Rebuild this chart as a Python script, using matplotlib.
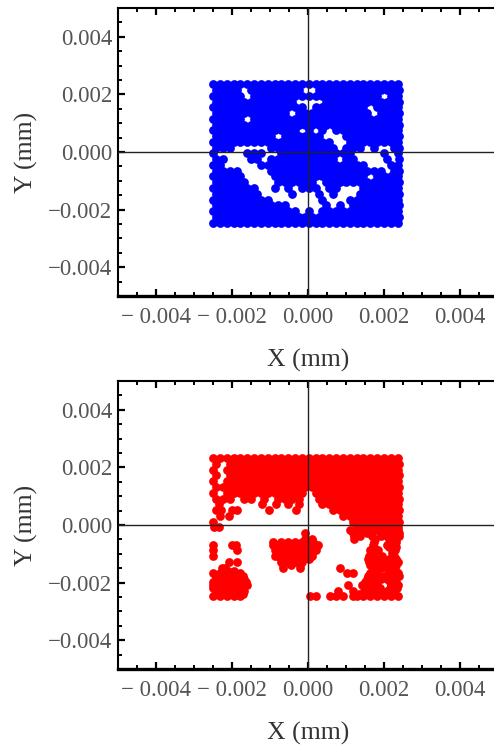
import matplotlib
matplotlib.use("Agg")
import matplotlib.pyplot as plt
from matplotlib.ticker import FixedLocator, MultipleLocator

# point values, x and y in units of 1e-5 mm
blue_y = [235, 215, 195, 175, 155, 135, 115, 95, 75, 55, 35, 15, -5, -25, -45, -65, -85, -105, -125, -145, -165, -185, -205, -225, -245]
blue_x = [
    [-250,-232,-214,-196,-178,-160,-142,-124,-106,-88,-70,-52,-34,-16,2,20,38,56,74,92,110,128,146,164,182,200,218,236],
    [-241,-223,-205,-187,-151,-133,-115,-97,-79,-61,-43,-25,29,47,65,83,101,119,137,155,173,191,209,227,240],
    [-250,-232,-214,-196,-178,-142,-124,-106,-88,-70,-52,-34,-16,2,20,38,56,74,92,110,128,146,164,182,218,236],
    [-241,-223,-205,-187,-169,-151,-133,-115,-97,-79,-61,-43,47,65,83,101,119,137,155,173,191,209,227,240],
    [-250,-232,-214,-196,-178,-160,-142,-124,-106,-88,-70,-52,-34,-16,20,38,56,74,92,110,128,146,182,200,218,236],
    [-241,-223,-205,-187,-169,-151,-133,-115,-97,-79,-61,-25,-7,11,29,47,65,83,101,119,137,155,191,209,227,240],
    [-250,-232,-214,-196,-178,-142,-124,-106,-88,-70,-52,-34,-16,2,20,38,56,74,92,110,128,146,164,182,200,218,236],
    [-241,-223,-205,-187,-169,-151,-133,-115,-97,-79,-61,-43,-25,-7,11,29,47,65,83,101,119,137,155,173,191,209,227,240],
    [-250,-232,-214,-196,-178,-160,-142,-124,-106,-88,-70,-52,-34,2,38,74,92,110,128,146,164,182,200,218,236],
    [-241,-223,-205,-187,-169,-151,-133,-115,-97,-61,-43,-25,-7,11,29,101,119,137,155,173,191,209,227,240],
    [-250,-232,-214,-196,-178,-160,-142,-124,-106,-88,-70,-52,-34,-16,2,20,38,56,110,128,146,164,182,200,218,236],
    [-241,-223,-205,-97,-79,-61,-43,-25,-7,11,29,47,65,101,119,137,173,227,240],
    [-250,-160,-142,-124,-70,-52,-34,-16,2,20,38,56,74,92,110,200,236],
    [-241,-223,-151,-133,-97,-79,-61,-43,-25,-7,11,29,47,65,101,119,209,240],
    [-250,-232,-124,-106,-88,-70,-52,-34,-16,2,20,38,56,74,92,110,128,146,218,236],
    [-241,-223,-205,-187,-97,-79,-61,-43,-25,-7,11,29,47,65,83,101,119,137,155,173,191,227,240],
    [-250,-232,-214,-196,-178,-88,-70,-52,-34,-16,2,20,38,56,74,92,110,128,146,182,200,218,236],
    [-241,-223,-205,-187,-169,-79,-61,-43,-25,-7,11,47,65,83,101,119,137,155,173,191,209,227,240],
    [-250,-232,-214,-196,-178,-160,-142,-88,-52,-16,2,20,56,74,146,164,182,200,218,236],
    [-241,-223,-205,-187,-169,-151,-133,-43,29,65,137,155,173,191,209,227,240],
    [-250,-232,-214,-196,-178,-160,-142,-124,-106,38,110,128,146,164,182,200,218,236],
    [-241,-223,-205,-187,-169,-151,-133,-115,-97,-79,-61,47,83,119,137,155,173,191,209,227,240],
    [-250,-232,-214,-196,-178,-160,-142,-124,-106,-88,-70,-52,-34,2,38,56,74,92,110,128,146,164,182,200,218,236],
    [-241,-223,-205,-187,-169,-151,-133,-115,-97,-79,-61,-43,-25,-7,11,29,47,65,83,101,119,137,155,173,191,209,227,240],
    [-250,-232,-214,-196,-178,-160,-142,-124,-106,-88,-70,-52,-34,-16,2,20,38,56,74,92,110,128,146,164,182,200,218,236],
]

red_y = [232, 212, 192, 172, 152, 132, 112, 92, 72, 52, 32, 12, -8, -28, -48, -68, -88, -108, -128, -148, -168, -188, -208, -228, -248,
         -18, -38, -58, -78, -98, -118, -138, -158, -178, -198, -218, -238]
red_x = [
    [-250,-232,-214,-196,-178,-160,-142,-124,-106,-88,-70,-52,-34,-16,2,20,38,56,74,92,110,128,146,164,182,200,218,236],
    [-241,-205,-187,-169,-151,-133,-115,-97,-79,-61,-43,-25,-7,11,29,47,65,83,101,119,137,155,173,191,209,227,240],
    [-250,-214,-196,-178,-160,-142,-124,-106,-88,-70,-52,-34,-16,2,20,38,56,74,92,110,128,146,164,182,200,218,236],
    [-241,-205,-187,-169,-151,-133,-115,-97,-79,-61,-43,-25,-7,11,29,47,65,83,101,119,137,155,173,191,209,227,240],
    [-250,-214,-196,-178,-160,-142,-124,-106,-88,-70,-52,-34,-16,2,20,38,56,74,92,110,128,146,164,182,200,218,236],
    [-241,-223,-205,-187,-169,-151,-133,-115,-97,-79,-61,-43,-25,-7,11,29,47,65,83,101,119,137,155,173,191,209,227,240],
    [-250,-214,-196,-178,-160,-142,-124,-106,-88,-70,-52,-34,-16,20,38,56,74,92,110,128,146,164,182,200,218,236],
    [-241,-223,-205,-169,-151,-115,-79,-61,-43,-25,29,47,65,83,101,119,137,155,173,191,209,227,240],
    [-235,-122,-84,-52,-25,38,56,74,92,110,128,146,164,182,200,218,236],
    [-241,-230,-201,-188,-102,-32,65,83,101,119,137,155,173,191,209,227,240],
    [-232,-207,92,110,128,146,164,182,200,218,236],
    [-249,119,137,155,173,191,209,227,240],
    [-247,-235,128,146,164,182,200,218,236],
    [-8,119,137,155,191,209,227,240],
    [121,-8,10,176,212,232],
    [-251,-201,-190,-91,-79,-61,-43,-25,-7,11,27,170,209,227],
    [-251,-188,-88,-70,-52,-34,-16,2,20,164,184,229],
    [-251,-87,-79,-61,-43,-25,-7,11,160,173,195,225],
    [-207,-188,-70,-52,-34,-16,160,182,200,218,236],
    [-227,-218,-65,-21,84,170,191,209,227],
    [-250,-232,-214,-196,-178,102,119,164,182,218,236],
    [-241,-223,-205,-187,-169,155,173,191,209,227],
    [-250,-232,-214,-196,-178,-160,106,141,164,182,218,236],
    [-241,-223,-205,-187,-169,80,119,147,173,191,209,227],
    [-250,-232,-214,-196,-178,5,20,58,74,91,119,128,146,164,182,200,218,236],
    # second pass, filling the solid patches
    [110,128,146,164,182,200,218,236],
    [121,137,168,191,209,227,240],
    [-91,-70,-52,-34,-16,-5,14,174,216,232],
    [-82,-70,-52,-34,-16,2,20,174,214,232],
    [-80,-61,-43,-25,-7,11,165,222],
    [-70,-52,-34,-16,2,158,172,190,212,232],
    [-65,-45,-21,163,188,212,232],
    [-225,-210,-195,168,180,212,232],
    [-241,-223,-205,-187,-172,158,176,200,225,240],
    [-250,-232,-214,-196,-178,-162,150,168,215,232],
    [-250,-232,-214,-196,-178,150,165,190,215,235],
    [-241,-223,-205,-187,-172,135,155,173,191,209,227],
]

major_ticks = [-0.004, -0.002, 0.0, 0.002, 0.004]
x_labels = ["\u2212 0.004", "\u2212 0.002", "0.000", "0.002", "0.004"]
y_labels = ["\u22120.004", "\u22120.002", "0.000", "0.002", "0.004"]


def flatten(xrows, ys):
    xs, yy = [], []
    for row, y in zip(xrows, ys):
        for x in row:
            xs.append(x * 1e-5)
            yy.append(y * 1e-5)
    return xs, yy


def panel(ax, xrows, ys, color):
    xs, yy = flatten(xrows, ys)
    ax.plot(xs, yy, "o", color=color, ms=6.3, mew=0, zorder=2)
    ax.axhline(0, color="#222222", lw=1.0, zorder=3)
    ax.axvline(0, color="#222222", lw=1.0, zorder=3)
    ax.set_xlim(-0.005, 0.005)
    ax.set_ylim(-0.005, 0.005)
    ax.xaxis.set_major_locator(FixedLocator(major_ticks))
    ax.yaxis.set_major_locator(FixedLocator(major_ticks))
    ax.xaxis.set_minor_locator(MultipleLocator(0.0005))
    ax.yaxis.set_minor_locator(MultipleLocator(0.0005))
    ax.set_xticklabels(x_labels)
    ax.set_yticklabels(y_labels)
    ax.tick_params(which="major", direction="in", length=5, width=1.6, top=True,
                   labelsize=16.5, labelcolor="#555555", pad=4)
    ax.tick_params(axis="x", which="major", pad=8)
    ax.tick_params(which="minor", direction="in", length=3, width=1.4, top=True)
    ax.spines["bottom"].set_linewidth(2.4)
    ax.spines["left"].set_linewidth(1.5)
    ax.spines["top"].set_linewidth(1.5)
    ax.set_xlabel("X (mm)", fontsize=18.5, color="#333333", labelpad=15)
    ax.set_ylabel("Y (mm)", fontsize=18.5, color="#333333", labelpad=7)


plt.rcParams["font.family"] = ["Liberation Serif", "DejaVu Serif"]
W, H = 494, 746
fig = plt.figure(figsize=(W / 100, H / 100), dpi=100)

# the right edge of both frames runs just past the picture
ax1 = fig.add_axes([118 / W, 1 - 296 / H, 380 / W, 288 / H])
ax2 = fig.add_axes([118 / W, 1 - 669 / H, 380 / W, 288 / H])
panel(ax1, blue_x, blue_y, "#0000ff")
panel(ax2, red_x, red_y, "#ff0000")

fig.savefig("out.png", dpi=100)
